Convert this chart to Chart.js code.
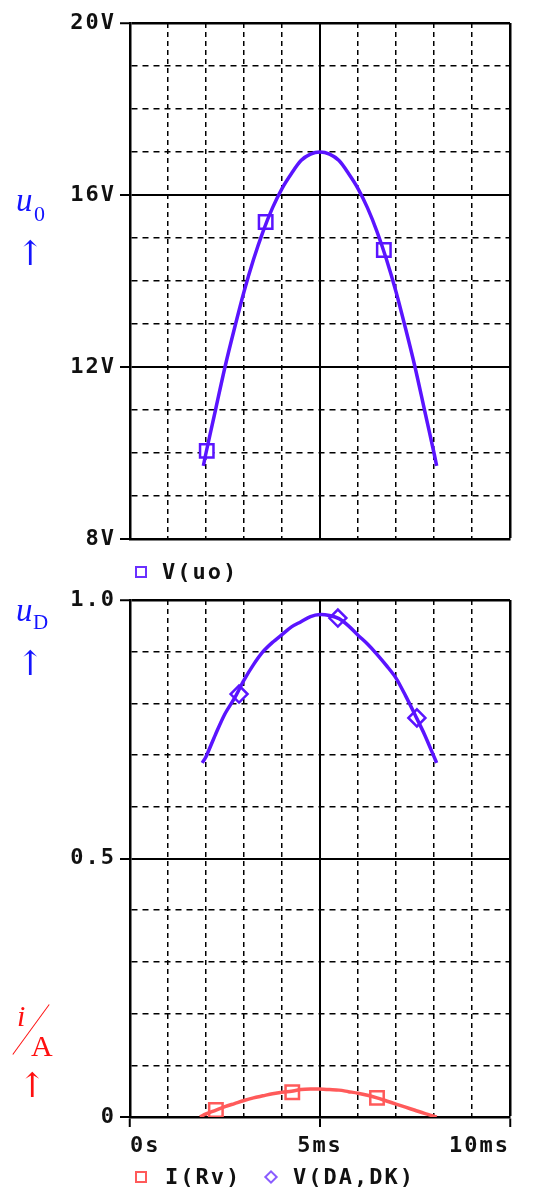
<!DOCTYPE html>
<html lang="en">
<head>
  <meta charset="UTF-8">
  <title>V(uo), I(Rv), V(DA,DK)</title>
  <script src="https://cdn.jsdelivr.net/npm/chart.js"></script>
  <style>
    body { margin: 0; background: #fff; width: 533px; height: 1189px; position: relative; overflow: hidden; }
    canvas { position: absolute; left: 0; }
    #topChart { top: 0; }
    #botChart { top: 580px; }
    .pix { position: absolute; font: bold 22px "DejaVu Sans Mono", monospace; letter-spacing: 2px; line-height: 22px; color: #111; }
    .note { position: absolute; font-family: "Liberation Serif", "DejaVu Serif", serif; line-height: 1; }
    .arrow { position: absolute; font-family: "DejaVu Serif", serif; font-size: 34px; line-height: 1; }
    .blue { color: #1414ff; }
    .red { color: #ff1010; }
  </style>
</head>
<body>
  <canvas id="topChart" width="533" height="560"></canvas>
  <canvas id="botChart" width="533" height="609"></canvas>

  <!-- axis notes on the left -->
  <div class="note blue" style="left:16px; top:184px; font-size:33px; font-style:italic;">u</div>
  <div class="note blue" style="left:34px; top:203px; font-size:22px;">0</div>
  <div class="arrow blue" style="left:16px; top:236px;">↑</div>

  <div class="note blue" style="left:16px; top:594px; font-size:33px; font-style:italic;">u</div>
  <div class="note blue" style="left:33px; top:612px; font-size:21px;">D</div>
  <div class="arrow blue" style="left:16px; top:646px;">↑</div>

  <div class="note red" style="left:17px; top:1001px; font-size:30px; font-style:italic;">i</div>
  <div style="position:absolute; left:0px; top:1029px; width:62px; height:0; border-top:1.5px solid #ff1010; transform:rotate(-54deg); transform-origin:center;"></div>
  <div class="note red" style="left:31px; top:1031px; font-size:30px;">A</div>
  <div class="arrow red" style="left:18px; top:1068px;">↑</div>

  <!-- legends -->
  <div style="position:absolute; left:135px; top:566px; width:8px; height:8px; border:2px solid #6a30ff;"></div>
  <div class="pix" style="left:162px; top:561px;">V(uo)</div>

  <div style="position:absolute; left:135px; top:1171px; width:8px; height:8px; border:2px solid #ff5a5a;"></div>
  <div class="pix" style="left:165px; top:1166px;">I(Rv)</div>
  <div style="position:absolute; left:266px; top:1172px; width:6px; height:6px; border:2px solid #8a5cff; transform:rotate(45deg);"></div>
  <div class="pix" style="left:293px; top:1166px;">V(DA,DK)</div>

  <script>
    // time axis in ms
    const xTicks = [0, 5, 10];
    const xLabels = ['0s', '5ms', '10ms'];

    // V(uo) curve
    const uoT = [1.93, 2.0, 2.25, 2.5, 2.75, 3.0, 3.25, 3.5, 3.75, 4.0, 4.25, 4.5, 4.75, 5.0,
                 5.25, 5.5, 5.75, 6.0, 6.25, 6.5, 6.75, 7.0, 7.25, 7.5, 7.75, 8.0, 8.07];
    const uoV = [9.7, 10.0, 11.0, 12.0, 12.9, 13.75, 14.5, 15.15, 15.7, 16.15, 16.5, 16.8, 16.95, 17.0,
                 16.95, 16.8, 16.5, 16.15, 15.7, 15.15, 14.5, 13.75, 12.9, 12.0, 11.0, 10.0, 9.7];
    const uoMarkT = [2.02, 3.57, 6.68];
    const uoMarkV = [10.05, 15.37, 14.72];
    const uoTicks = [8, 12, 16, 20];

    // V(DA,DK) curve
    const udT = [1.9, 2.0, 2.25, 2.5, 2.75, 3.0, 3.25, 3.5, 3.75, 4.0, 4.25, 4.5, 4.75, 5.0,
                 5.25, 5.5, 5.75, 6.0, 6.25, 6.5, 6.75, 7.0, 7.25, 7.5, 7.75, 8.0, 8.07];
    const udV = [0.685, 0.697, 0.74, 0.78, 0.81, 0.845, 0.875, 0.90, 0.918, 0.933, 0.948, 0.958, 0.968, 0.972,
                 0.970, 0.964, 0.950, 0.932, 0.915, 0.895, 0.873, 0.849, 0.815, 0.778, 0.74, 0.697, 0.685];
    const udMarkT = [2.87, 5.47, 7.55];
    const udMarkV = [0.818, 0.965, 0.772];

    // I(Rv) curve
    const irT = [1.84, 2.0, 2.25, 2.5, 2.75, 3.0, 3.25, 3.5, 3.75, 4.0, 4.25, 4.5, 4.75, 5.0,
                 5.25, 5.5, 5.75, 6.0, 6.25, 6.5, 6.75, 7.0, 7.25, 7.5, 7.75, 8.07];
    const irV = [0, 0.006, 0.013, 0.02, 0.026, 0.032, 0.037, 0.041, 0.045, 0.048, 0.05, 0.053, 0.054, 0.054,
                 0.053, 0.052, 0.049, 0.046, 0.042, 0.037, 0.031, 0.025, 0.019, 0.013, 0.007, 0];
    const irMarkT = [2.26, 4.27, 6.5];
    const irMarkV = [0.0135, 0.048, 0.037];
    const botTicks = [0, 0.5, 1];
    const botLabels = ['0', '0.5', '1.0'];

    const purple = '#5a14ff';
    const red = '#ff5a5a';
    const pixFont = { family: 'DejaVu Sans Mono', size: 22, weight: 'bold' };

    const pts = (xs, ys) => xs.map((x, i) => ({ x: x, y: ys[i] }));
    const near = (v, list) => list.findIndex(t => Math.abs(t - v) < 1e-6);

    // wider spacing like the simulator's pixel font
    const spacing = {
      id: 'spacing',
      beforeUpdate(chart) { chart.ctx.letterSpacing = '2px'; },
      beforeDraw(chart) { chart.ctx.letterSpacing = '2px'; }
    };

    function xScale(showLabels) {
      return {
        type: 'linear', min: 0, max: 10,
        ticks: {
          display: showLabels, stepSize: 1, autoSkip: false, maxRotation: 0, align: 'inner',
          padding: 6, color: '#111', font: pixFont,
          callback: v => { const k = near(v, xTicks); return k < 0 ? '' : xLabels[k]; }
        },
        grid: {
          color: '#000',
          lineWidth: c => (c.tick && c.tick.value === 10) ? 2.5 : (c.tick && c.tick.value === 5 ? 2 : 1.5),
          drawTicks: showLabels, tickLength: 10, tickWidth: 2,
          tickColor: c => (c.tick && near(c.tick.value, xTicks) >= 0) ? '#000' : 'rgba(0,0,0,0)'
        },
        border: {
          display: true, color: '#000', width: 2.5,
          dash: c => (!c.tick || near(c.tick.value, xTicks) >= 0) ? [] : [5, 4]
        },
        afterFit: s => { s.height = showLabels ? 40 : 0; }
      };
    }

    function yScale(min, max, step, ticks, label) {
      return {
        min: min, max: max,
        ticks: {
          stepSize: step, autoSkip: false, padding: 4, color: '#111', font: pixFont,
          callback: v => { const k = near(v, ticks); return k < 0 ? '' : label(k); }
        },
        grid: {
          color: '#000',
          lineWidth: c => (c.tick && Math.abs(c.tick.value - max) < 1e-6) ? 2.5 : (c.tick && near(c.tick.value, ticks) >= 0 ? 2 : 1.5),
          tickLength: 10, tickWidth: 2,
          tickColor: c => (c.tick && near(c.tick.value, ticks) >= 0) ? '#000' : 'rgba(0,0,0,0)'
        },
        border: {
          display: true, color: '#000', width: 2.5,
          dash: c => (!c.tick || near(c.tick.value, ticks) >= 0) ? [] : [6, 5]
        },
        afterFit: s => { s.width = 130; }
      };
    }

    const lineSet = (data, color) => ({
      data: data, borderColor: color, borderWidth: 3.5, pointRadius: 0, tension: 0.3, fill: false
    });
    const markSet = (data, color, style, r) => ({
      data: data, showLine: false, pointStyle: style, pointRadius: r,
      pointBorderColor: color, pointBackgroundColor: '#fff', pointBorderWidth: 2.5
    });

    new Chart(document.getElementById('topChart'), {
      type: 'line',
      data: {
        datasets: [
          lineSet(pts(uoT, uoV), purple),
          markSet(pts(uoMarkT, uoMarkV), purple, 'rect', 9.5)
        ]
      },
      options: {
        responsive: false, animation: false,
        layout: { padding: { left: 0, right: 23, top: 23, bottom: 21 } },
        plugins: { legend: { display: false }, tooltip: { enabled: false } },
        scales: {
          x: xScale(false),
          y: yScale(8, 20, 1, uoTicks, k => uoTicks[k] + 'V')
        }
      },
      plugins: [spacing]
    });

    new Chart(document.getElementById('botChart'), {
      type: 'line',
      data: {
        datasets: [
          lineSet(pts(irT, irV), red),
          lineSet(pts(udT, udV), purple),
          markSet(pts(irMarkT, irMarkV), red, 'rect', 9.5),
          markSet(pts(udMarkT, udMarkV), purple, 'rectRot', 8.5)
        ]
      },
      options: {
        responsive: false, animation: false,
        layout: { padding: { left: 0, right: 23, top: 20, bottom: 32 } },
        plugins: { legend: { display: false }, tooltip: { enabled: false } },
        scales: {
          x: xScale(true),
          y: yScale(0, 1, 0.1, botTicks, k => botLabels[k])
        }
      },
      plugins: [spacing]
    });
  </script>
</body>
</html>
